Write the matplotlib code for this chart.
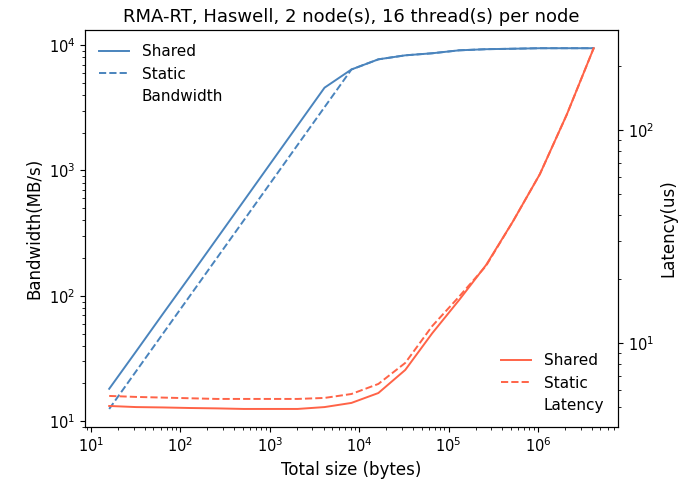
import matplotlib
matplotlib.use("Agg")
import matplotlib.pyplot as plt

sizes = [16, 32, 64, 128, 256, 512, 1024, 2048, 4096, 8192, 16384, 32768,
         65536, 131072, 262144, 524288, 1048576, 2097152, 4194304]

bw_shared = [18.1, 36, 72, 143, 286, 572, 1145, 2290, 4580, 6400, 7710, 8300,
             8620, 9100, 9290, 9370, 9460, 9460, 9460]
bw_static = [12.5, 25, 50, 100, 200, 400, 800, 1600, 3200, 6400, 7710, 8300,
             8620, 9100, 9290, 9370, 9460, 9460, 9460]

lat_shared = [5.06, 5.0, 4.98, 4.95, 4.93, 4.9, 4.9, 4.9, 5.0, 5.23, 5.82, 7.47,
              11.1, 15.9, 23.2, 37.2, 62, 118, 242]
lat_static = [5.64, 5.58, 5.54, 5.5, 5.46, 5.46, 5.46, 5.46, 5.52, 5.76, 6.42, 8.06,
              12.0, 16.5, 23.0, 37.2, 62, 118, 242]

blue = "#4a84bd"
red = "#ff6347"

plt.rcParams["font.size"] = 11
plt.rcParams["xtick.labelsize"] = 10.5
plt.rcParams["ytick.labelsize"] = 10.5

fig = plt.figure(figsize=(6.82, 4.79), dpi=100)
ax = fig.add_axes([0.1246, 0.1086, 0.7814, 0.8284])
ax2 = ax.twinx()

ax.plot(sizes, bw_shared, color=blue, linewidth=1.4, label="Shared")
ax.plot(sizes, bw_static, color=blue, linewidth=1.4, linestyle="--", label="Static")
ax.plot([], [], " ", label="Bandwidth")
ax.set_xscale("log")
ax.set_yscale("log")
ax.set_xlabel("Total size (bytes)", fontsize=12)
ax.set_ylabel("Bandwidth(MB/s)", fontsize=12)
ax.set_title("RMA-RT, Haswell, 2 node(s), 16 thread(s) per node", fontsize=13)
ax.legend(loc="upper left", frameon=False, fontsize=11)

ax2.plot(sizes, lat_shared, color=red, linewidth=1.4, label="Shared")
ax2.plot(sizes, lat_static, color=red, linewidth=1.4, linestyle="--", label="Static")
ax2.plot([], [], " ", label="Latency")
ax2.set_yscale("log")
ax2.set_ylabel("Latency(us)", fontsize=12)
ax2.legend(loc="lower right", frameon=False, fontsize=11)

fig.savefig("out.png", dpi=100)
